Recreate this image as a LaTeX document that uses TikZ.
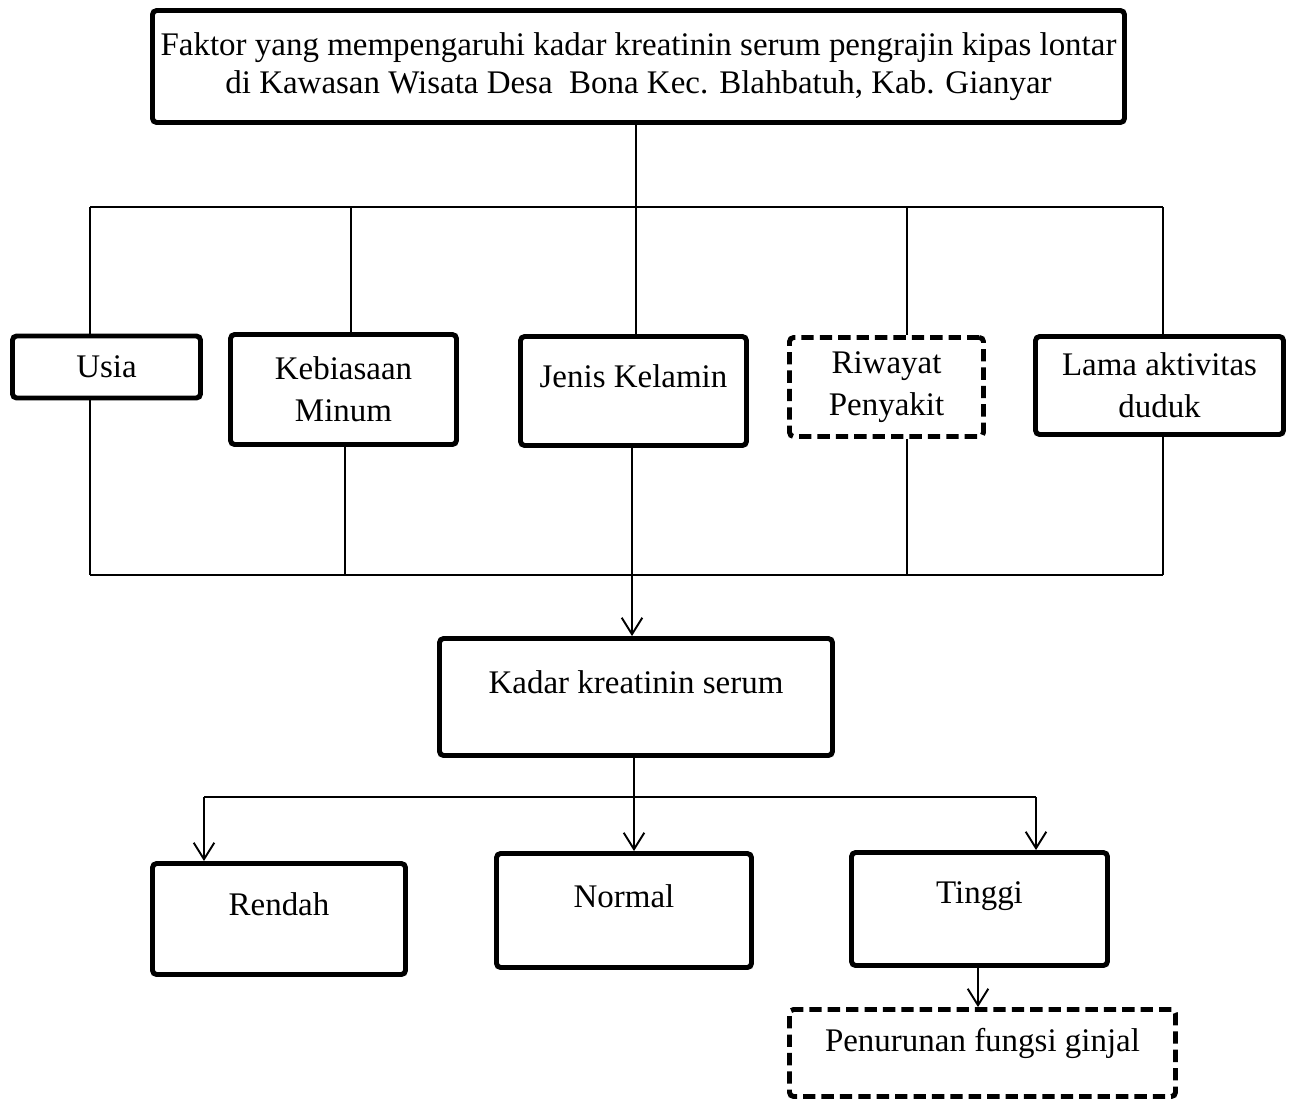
\documentclass[tikz,border=0pt]{standalone}
\usepackage{fontspec}
\setmainfont{Liberation Serif}
\usetikzlibrary{arrows.meta}

\begin{document}
\begin{tikzpicture}[x=0.364pt, y=-0.364pt, >={Straight Barb[length=6pt,width=7.5pt]}, line width=0.7pt]
\tikzstyle{bx} = [rectangle, rounded corners=1.5pt, draw=black, line width=1.8pt, align=center, inner sep=2pt, font=\fontsize{12}{15.3}\selectfont]
\tikzstyle{dbx} = [bx, dash pattern=on 4.5pt off 2.2pt]
\tikzstyle{sz} = [minimum width=#1*0.364pt]
\tikzstyle{ht} = [minimum height=#1*0.364pt]
\useasboundingbox (0,0) rectangle (1304,1102);
% factors
\node (Top) [bx, sz=972, ht=112, font=\fontsize{12}{13.6}\selectfont] at (638.5,66.5) {Faktor yang mempengaruhi kadar kreatinin serum pengrajin kipas lontar\\di Kawasan Wisata Desa\ \ Bona Kec. Blahbatuh, Kab. Gianyar};
\node (Usia) [bx, sz=188, ht=62] at (106.5,367) {Usia};
\node (Minum) [bx, sz=226, ht=110] at (343.5,389.5) {Kebiasaan\\Minum};
\node (Jenis) [bx, sz=226, ht=109, text depth=10.6pt] at (633.5,391) {Jenis Kelamin};
\node (Riwayat) [dbx, sz=194, ht=99] at (886.5,387) {Riwayat\\Penyakit};
\node (Duduk) [bx, sz=248, ht=98] at (1159.5,385.5) {Lama aktivitas\\duduk};
% outcome
\node (Kadar) [bx, sz=393, ht=117, text depth=10.6pt] at (636,697) {Kadar kreatinin serum};
\node (Rendah) [bx, sz=253, ht=111, text depth=10.6pt] at (279,919) {Rendah};
\node (Normal) [bx, sz=255, ht=114, text depth=10.2pt] at (624,910.5) {Normal};
\node (Tinggi) [bx, sz=256, ht=113, text depth=12.1pt] at (979.5,909) {Tinggi};
\node (Ginjal) [dbx, sz=386, ht=87, text depth=9.9pt] at (982.5,1053) {Penurunan fungsi ginjal};
% bus points
\coordinate (tj) at (636,207);
\coordinate (tl) at (90,207);
\coordinate (tr) at (1163,207);
\coordinate (bl) at (90,575);
\coordinate (br) at (1163,575);
\coordinate (cl) at (204,797);
\coordinate (cm) at (634,797);
\coordinate (cr) at (1036,797);
\draw (Top.south -| tj) -- (tj);
\draw (tl) -- (tr);
\draw (tl) -- (Usia.north -| tl);
\draw (351,207) -- (Minum.north -| 351,0);
\draw (tj) -- (Jenis.north -| tj);
\draw (907,207) -- (Riwayat.north -| 907,0);
\draw (tr) -- (Duduk.north -| tr);
\draw (Usia.south -| bl) -- (bl);
\draw (Minum.south -| 345,0) -- (345,575);
\draw (Riwayat.south -| 907,0) -- (907,575);
\draw (Duduk.south -| br) -- (br);
\draw (bl) -- (br);
\draw[->] (Jenis.south -| 632,0) -- (Kadar.north -| 632,0);
\draw (Kadar.south -| cm) -- (cm);
\draw (cl) -- (cr);
\draw[->] (cl) -- (Rendah.north -| cl);
\draw[->] (cm) -- (Normal.north -| cm);
\draw[->] (cr) -- (Tinggi.north -| cr);
\draw[->] (Tinggi.south -| 978,0) -- (Ginjal.north -| 978,0);
\end{tikzpicture}
\end{document}
